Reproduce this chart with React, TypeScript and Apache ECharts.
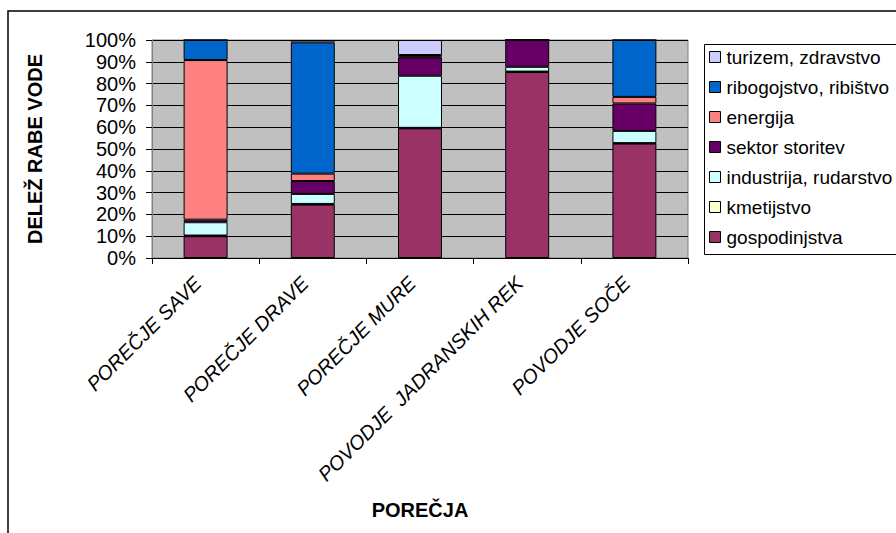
import React, { useEffect, useRef } from "react";
import * as echarts from "echarts";

const categories = [
  "POREČJE SAVE",
  "POREČJE DRAVE",
  "POREČJE MURE",
  "POVODJE  JADRANSKIH REK",
  "POVODJE SOČE",
];

const gospodinjstva = [10.0, 24.5, 59.5, 85.3, 52.5];
const kmetijstvo = [0.3, 0.3, 0.2, 0.2, 0.2];
const industrija = [6.1, 4.6, 23.9, 2.2, 5.6];
const sektorStoritev = [1.2, 5.9, 8.4, 12.3, 12.6];
const energija = [73.2, 3.4, 0.4, 0, 3.0];
const ribogojstvo = [9.2, 60.2, 0.7, 0, 26.1];
const turizem = [0, 1.1, 6.9, 0, 0];

const yTicks = { min: 0, max: 100, interval: 10 };

const seriesDefs = [
  { name: "gospodinjstva", data: gospodinjstva, color: "#993366" },
  { name: "kmetijstvo", data: kmetijstvo, color: "#FFFFCC" },
  { name: "industrija, rudarstvo", data: industrija, color: "#CCFFFF" },
  { name: "sektor storitev", data: sektorStoritev, color: "#660066" },
  { name: "energija", data: energija, color: "#FF8080" },
  { name: "ribogojstvo, ribištvo", data: ribogojstvo, color: "#0066CC" },
  { name: "turizem, zdravstvo", data: turizem, color: "#CCCCFF" },
];

const FONT = "'Liberation Sans', Arial, sans-serif";

export default function App() {
  const ref = useRef<HTMLDivElement>(null);
  useEffect(() => {
    if (!ref.current) return;
    const chart = echarts.init(ref.current, null, { renderer: "svg" });
    chart.setOption({
      animation: false,
      textStyle: { fontFamily: FONT },
      grid: {
        left: 152,
        right: 208,
        top: 40,
        bottom: 275,
        show: true,
        backgroundColor: "#C0C0C0",
        borderColor: "#808080",
        borderWidth: 1,
      },
      legend: {
        orient: "vertical",
        left: 709,
        top: 47,
        itemWidth: 11,
        itemHeight: 11,
        itemGap: 10,
        icon: "rect",
        padding: 0,
        data: seriesDefs.map((s) => s.name).reverse(),
        itemStyle: { borderColor: "#000", borderWidth: 1 },
        textStyle: {
          fontSize: 19,
          lineHeight: 20,
          color: "#000",
          fontFamily: FONT,
          padding: [0, 0, 0, 1],
        },
      },
      xAxis: {
        type: "category",
        data: categories,
        name: "POREČJA",
        nameLocation: "middle",
        nameGap: 242,
        nameTextStyle: { fontSize: 20, fontWeight: "bold", color: "#000", fontFamily: FONT },
        axisLine: { lineStyle: { color: "#000", width: 1 } },
        axisTick: { show: true, length: 6, lineStyle: { color: "#000" } },
        axisLabel: {
          interval: 0,
          rotate: 45,
          fontSize: 20,
          fontStyle: "italic",
          color: "#000",
          margin: 14,
          padding: [0, 11, 30, 0],
          fontFamily: FONT,
        },
        splitLine: { show: false },
      },
      yAxis: {
        type: "value",
        min: yTicks.min,
        max: yTicks.max,
        interval: yTicks.interval,
        name: "DELEŽ RABE VODE",
        nameLocation: "middle",
        nameGap: 107,
        nameRotate: 90,
        nameTextStyle: { fontSize: 20, fontWeight: "bold", color: "#000", fontFamily: FONT },
        axisLine: { show: true, lineStyle: { color: "#808080", width: 1 } },
        axisTick: { show: true, length: 6, lineStyle: { color: "#000" } },
        axisLabel: {
          formatter: "{value}%",
          fontSize: 20,
          color: "#000",
          margin: 16,
          fontFamily: FONT,
        },
        splitLine: { show: true, lineStyle: { color: "#000", width: 1 } },
      },
      series: seriesDefs.map((s) => ({
        name: s.name,
        type: "bar",
        stack: "total",
        data: s.data,
        barWidth: "41%",
        itemStyle: { color: s.color, borderColor: "#000", borderWidth: 1 },
      })),
      graphic: [
        {
          type: "rect",
          left: 702,
          top: 42,
          shape: { width: 193, height: 210 },
          style: { fill: "none", stroke: "#000", lineWidth: 1 },
          silent: true,
        },
        {
          type: "rect",
          shape: { x: 8, y: 11, width: 1000, height: 1000 },
          style: { fill: "none", stroke: "#000", lineWidth: 1.5 },
          silent: true,
        },
      ],
    });
    return () => chart.dispose();
  }, []);
  return (
    <div
      ref={ref}
      style={{ position: "absolute", left: 0, top: 0, width: 896, height: 533 }}
    />
  );
}
